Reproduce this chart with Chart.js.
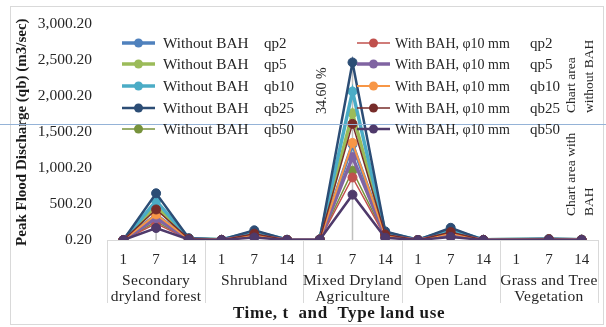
<!DOCTYPE html>
<html>
<head>
<meta charset="utf-8">
<script src="https://cdn.jsdelivr.net/npm/chart.js@4"></script>
<style>
  html, body { margin: 0; padding: 0; background: #fff; }
  #wrap { width: 606px; height: 327px; position: relative; }
</style>
</head>
<body>
<div id="wrap"><canvas id="chart"></canvas></div>
<script>
const timeLabels = ['1', '7', '14', '1', '7', '14', '1', '7', '14', '1', '7', '14', '1', '7', '14'];
const landUse = [['Secondary', 'dryland forest'], ['Shrubland'], ['Mixed Dryland', 'Agriculture'], ['Open Land'], ['Grass and Tree', 'Vegetation']];
const yTicks = [0.2, 500.2, 1000.2, 1500.2, 2000.2, 2500.2, 3000.2];

// without BAH
const woQp2  = [0.2, 350, 14, 2, 73, 2, 5, 1330, 65, 0.2, 92, 2, null, 8, 3];
const woQp5  = [0.2, 465, 18, 2, 96, 2, 7, 1763, 86, 0.2, 121, 2, null, 11, 4];
const woQb10 = [0.2, 545, 21, 3, 113, 3, 8, 2066, 100, 0.2, 142, 3, null, 13, 4];
const woQb25 = [0.2, 650, 25, 3, 135, 3, 10, 2470, 120, 0.2, 170, 3, null, 15, 5];
const woQb50 = [0.2, 255, 10, 1, 53, 1, 4, 965, 47, 0.2, 66, 1, null, 6, 2];
// with BAH, phi 10 mm
const wQp2  = [0.2, 229, 9, 1, 48, 1, 3, 870, 43, 0.2, 60, 1, null, 5, 2];
const wQp5  = [0.2, 304, 12, 1, 63, 1, 5, 1153, 56, 0.2, 79, 1, null, 7, 3];
const wQb10 = [0.2, 356, 14, 2, 74, 2, 5, 1351, 65, 0.2, 93, 2, null, 8, 3];
const wQb25 = [0.2, 425, 16, 2, 88, 2, 7, 1615, 78, 0.2, 111, 2, null, 10, 3];
const wQb50 = [0.2, 167, 7, 1, 35, 1, 3, 631, 31, 0.2, 43, 1, null, 4, 1];

const seriesNames = [
  ['Without BAH', 'qp2'], ['Without BAH', 'qp5'], ['Without BAH', 'qb10'], ['Without BAH', 'qb25'], ['Without BAH', 'qb50'],
  ['With BAH, \u03c610 mm', 'qp2'], ['With BAH, \u03c610 mm', 'qp5'], ['With BAH, \u03c610 mm', 'qb10'], ['With BAH, \u03c610 mm', 'qb25'], ['With BAH, \u03c610 mm', 'qb50']
];
const seriesData = [woQp2, woQp5, woQb10, woQb25, woQb50, wQp2, wQp5, wQb10, wQb25, wQb50];
const colors = ['#4f81bd', '#9bbb59', '#4bacc6', '#2c4d75', '#77933c', '#c0504d', '#8064a2', '#f79646', '#772c2a', '#4f3a6b'];
const widths = [3.5, 3.5, 3.5, 2.5, 1.5, 1.5, 3.5, 2, 1.5, 2.5];

const serif = "'Liberation Serif', 'Times New Roman', serif";

const datasets = seriesData.map((d, i) => ({
  label: seriesNames[i].join(' '),
  data: d,
  borderColor: colors[i],
  backgroundColor: colors[i],
  borderWidth: widths[i],
  pointRadius: 4.5,
  pointBorderWidth: 1,
  tension: 0,
  spanGaps: true,
  order: 9 - i
}));

const decor = {
  id: 'decor',
  beforeDatasetsDraw(chart) {
    const ctx = chart.ctx, x = chart.scales.x, y = chart.scales.y, a = chart.chartArea;
    ctx.save();
    // drop lines
    ctx.strokeStyle = '#bfbfbf';
    ctx.lineWidth = 1.5;
    timeLabels.forEach((t, i) => {
      let m = 0;
      seriesData.forEach(s => { if (s[i] != null && s[i] > m) m = s[i]; });
      if (m <= 0.2) return;
      const px = x.getPixelForValue(i);
      ctx.beginPath();
      ctx.moveTo(px, y.getPixelForValue(m));
      ctx.lineTo(px, a.bottom);
      ctx.stroke();
    });
    // category boxes
    ctx.strokeStyle = '#d9d9d9';
    ctx.lineWidth = 1;
    for (let g = 0; g <= landUse.length; g++) {
      let px;
      if (g === 0) px = a.left;
      else if (g === landUse.length) px = a.right;
      else px = (x.getPixelForValue(g * 3 - 1) + x.getPixelForValue(g * 3)) / 2;
      px = Math.round(px) + 0.5;
      ctx.beginPath();
      ctx.moveTo(px, a.bottom);
      ctx.lineTo(px, a.bottom + 63);
      ctx.stroke();
    }
    // outer frame
    ctx.strokeRect(10.5, 6.5, 593, 318);
    ctx.restore();
  },
  afterDatasetsDraw(chart) {
    const ctx = chart.ctx, x = chart.scales.x, y = chart.scales.y, a = chart.chartArea;
    ctx.save();
    // group labels
    ctx.fillStyle = '#262626';
    ctx.font = '15.5px ' + serif;
    ctx.letterSpacing = '0.3px';
    ctx.textAlign = 'center';
    ctx.textBaseline = 'middle';
    landUse.forEach((lines, g) => {
      const cx = x.getPixelForValue(g * 3 + 1);
      lines.forEach((l, k) => ctx.fillText(l, cx, a.bottom + 41 + k * 16));
    });
    // x title
    ctx.font = 'bold 17px ' + serif;
    ctx.letterSpacing = '0.6px';
    ctx.fillStyle = '#1a1a1a';
    ctx.fillText('Time, t  and  Type land use', 339, 314);
    ctx.letterSpacing = '0px';

    // separator line
    const ly = Math.round(y.getPixelForValue(1610)) + 0.5;
    ctx.strokeStyle = '#95b3d7';
    ctx.lineWidth = 1;
    ctx.beginPath();
    ctx.moveTo(0, ly);
    ctx.lineTo(606, ly);
    ctx.stroke();

    // legend
    ctx.textAlign = 'left';
    const cols = [{ x0: 122, tx: 163, sx: 264, f: 15.3 }, { x0: 357, tx: 395, sx: 530, f: 14 }];
    const rows = [43, 64, 86, 108, 129];
    seriesNames.forEach((n, i) => {
      const c = cols[Math.floor(i / 5)], ry = rows[i % 5];
      ctx.strokeStyle = colors[i];
      ctx.lineWidth = widths[i];
      ctx.beginPath();
      ctx.moveTo(c.x0, ry);
      ctx.lineTo(c.x0 + 33, ry);
      ctx.stroke();
      ctx.fillStyle = colors[i];
      ctx.beginPath();
      ctx.arc(c.x0 + 16.5, ry, 4.5, 0, Math.PI * 2);
      ctx.fill();
      ctx.fillStyle = '#262626';
      ctx.font = c.f + 'px ' + serif;
      ctx.fillText(n[0], c.tx, ry + 1);
      ctx.font = '15px ' + serif;
      ctx.fillText(n[1], c.sx, ry + 1);
    });

    // rotated notes
    const vtext = (txt, px, bottom) => {
      ctx.save();
      ctx.translate(px, bottom);
      ctx.rotate(-Math.PI / 2);
      ctx.textAlign = 'left';
      ctx.fillText(txt, 0, 0);
      ctx.restore();
    };
    ctx.fillStyle = '#262626';
    ctx.font = '14px ' + serif;
    vtext('34.60 %', 322, 114);
    ctx.font = '13.5px ' + serif;
    vtext('Chart area', 571, 113);
    vtext('without BAH', 589, 113);
    vtext('Chart area with', 571, 216);
    vtext('BAH', 589, 216);
    ctx.restore();
  }
};

new Chart(document.getElementById('chart'), {
  type: 'line',
  data: { labels: timeLabels, datasets: datasets },
  options: {
    responsive: true,
    maintainAspectRatio: false,
    animation: false,
    layout: { padding: { top: 22, left: 13, right: 8, bottom: 0 } },
    plugins: { legend: { display: false }, tooltip: { enabled: false } },
    scales: {
      x: {
        offset: true,
        grid: { display: false, drawTicks: false },
        border: { color: '#d9d9d9' },
        ticks: { color: '#262626', font: { family: serif, size: 15 }, padding: 11, maxRotation: 0, autoSkip: false },
        afterFit(scale) { scale.height = 87; }
      },
      y: {
        min: 0.2,
        max: 3000.2,
        grid: { display: false, drawTicks: false },
        border: { display: false },
        afterBuildTicks(scale) { scale.ticks = yTicks.map(v => ({ value: v })); },
        ticks: {
          color: '#262626',
          font: { family: serif, size: 15.5 },
          padding: 15,
          callback: v => v.toLocaleString('en-US', { minimumFractionDigits: 2, maximumFractionDigits: 2 })
        },
        title: {
          display: true,
          text: 'Peak Flood Discharge (qb) (m3/sec)',
          color: '#1a1a1a',
          font: { family: serif, size: 15, weight: 'bold' },
          padding: { top: 0, bottom: 0 }
        },
        afterFit(scale) { scale.width = 94; }
      }
    }
  },
  plugins: [decor]
});
</script>
</body>
</html>
